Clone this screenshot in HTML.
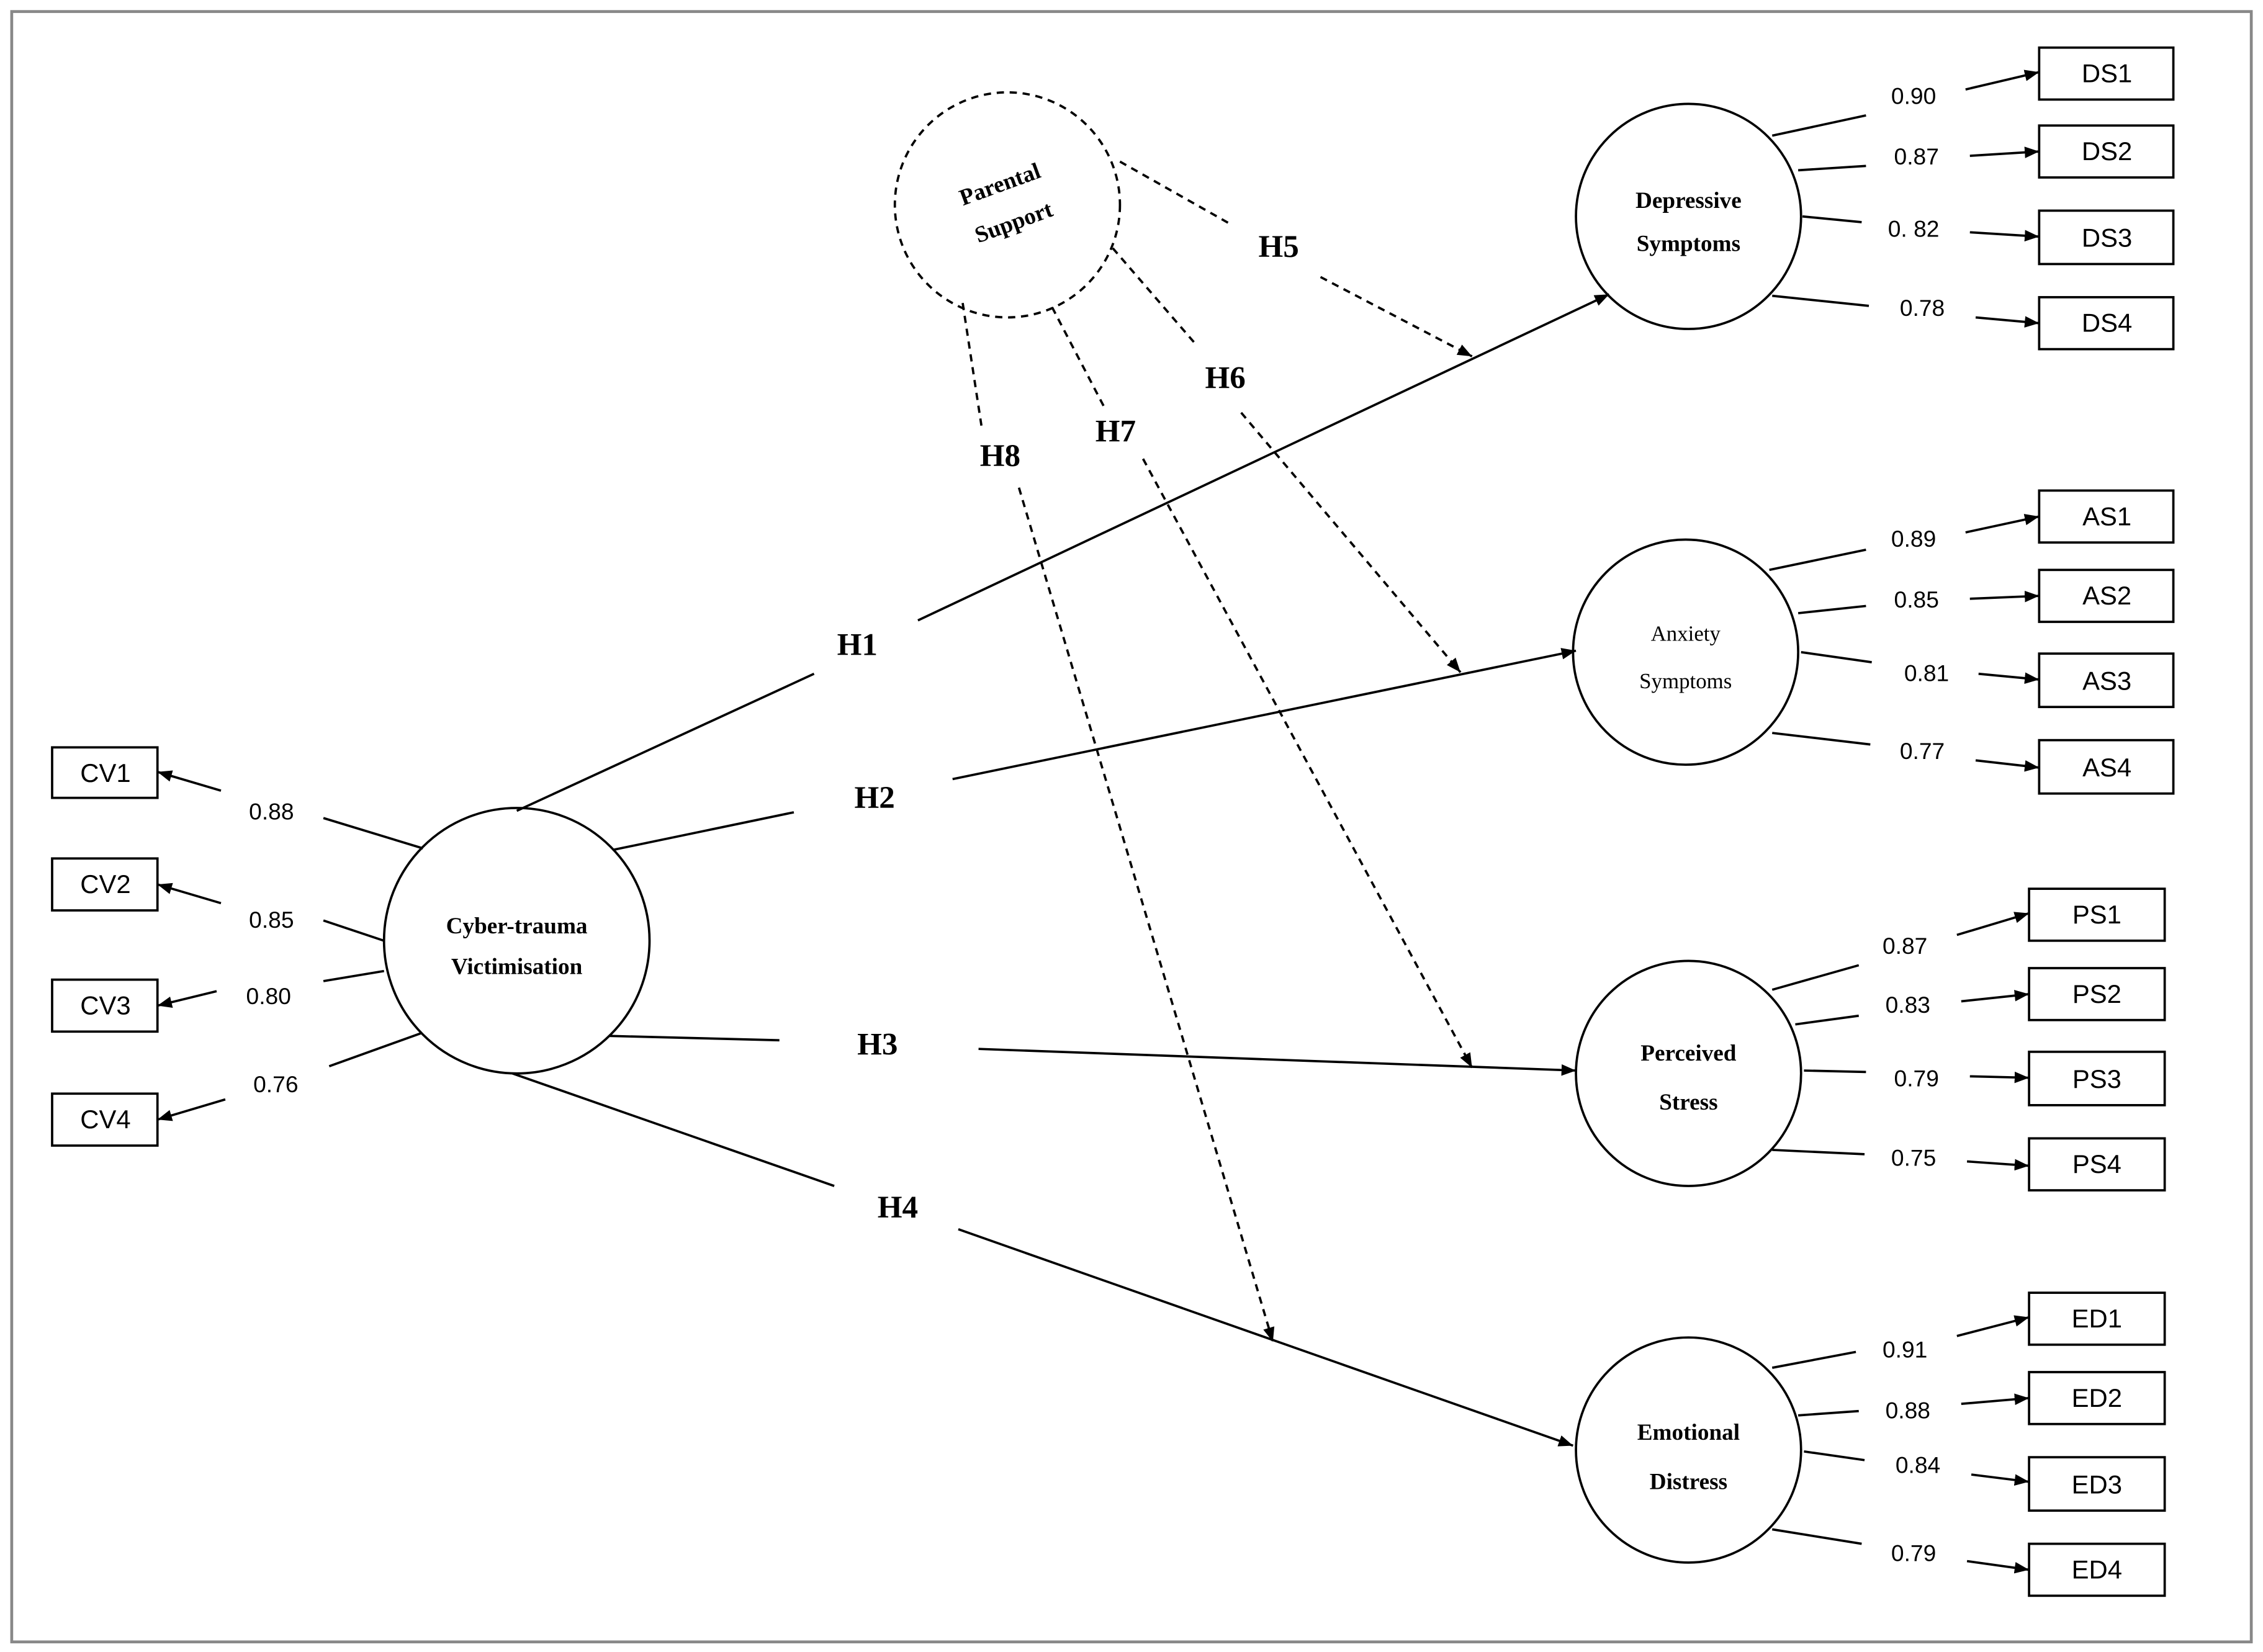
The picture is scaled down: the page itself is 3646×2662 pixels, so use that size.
<!DOCTYPE html>
<html><head><meta charset="utf-8"><style>
html,body{margin:0;padding:0;background:#fff;}
svg{display:block;}
.n{font-family:"Liberation Sans",sans-serif;font-size:16px;}
.b{font-family:"Liberation Sans",sans-serif;font-size:18px;}
.h{font-family:"Liberation Serif",serif;font-size:22px;font-weight:bold;}
.c{font-family:"Liberation Serif",serif;font-size:16px;font-weight:bold;}
</style></head><body>
<svg width="3646" height="2662" viewBox="0 0 1568 1145" xmlns="http://www.w3.org/2000/svg">
<defs><marker id="a" markerWidth="10" markerHeight="8" refX="10" refY="4" orient="auto" markerUnits="userSpaceOnUse"><path d="M0,0 L10,4 L0,8 z" fill="#000"/></marker></defs>
<rect x="0" y="0" width="1568" height="1145" fill="#fff"/>
<rect x="8" y="8" width="1552" height="1130" fill="none" stroke="#888" stroke-width="2"/>
<g fill="none" stroke="#000" stroke-width="1.6">
<circle cx="358" cy="652" r="92"/>
<circle cx="1170" cy="150" r="78"/>
<circle cx="1168" cy="452" r="78"/>
<circle cx="1170" cy="744" r="78"/>
<circle cx="1170" cy="1005" r="78"/>
<circle cx="698" cy="142" r="78" stroke-dasharray="5,4"/>
<rect x="36" y="518" width="73" height="35"/><rect x="36" y="595" width="73" height="36"/><rect x="36" y="679" width="73" height="36"/><rect x="36" y="758" width="73" height="36"/>
<rect x="1413" y="33" width="93" height="36"/><rect x="1413" y="87" width="93" height="36"/><rect x="1413" y="146" width="93" height="37"/><rect x="1413" y="206" width="93" height="36"/>
<rect x="1413" y="340" width="93" height="36"/><rect x="1413" y="395" width="93" height="36"/><rect x="1413" y="453" width="93" height="37"/><rect x="1413" y="513" width="93" height="37"/>
<rect x="1406" y="616" width="94" height="36"/><rect x="1406" y="671" width="94" height="36"/><rect x="1406" y="729" width="94" height="37"/><rect x="1406" y="789" width="94" height="36"/>
<rect x="1406" y="896" width="94" height="36"/><rect x="1406" y="951" width="94" height="36"/><rect x="1406" y="1010" width="94" height="37"/><rect x="1406" y="1070" width="94" height="36"/>
<!-- CV loadings -->
<path d="M293,588 L224,567"/><path d="M153,548 L109,535" marker-end="url(#a)"/>
<path d="M266,652 L224,638"/><path d="M153,626 L109,613" marker-end="url(#a)"/>
<path d="M266,673 L224,680"/><path d="M150,687 L109,697" marker-end="url(#a)"/>
<path d="M292,716 L228,739"/><path d="M156,762 L109,776" marker-end="url(#a)"/>
<!-- DS -->
<path d="M1228,94 L1293,80"/><path d="M1362,62 L1413,50" marker-end="url(#a)"/>
<path d="M1246,118 L1293,115"/><path d="M1365,108 L1413,105" marker-end="url(#a)"/>
<path d="M1249,150 L1290,154"/><path d="M1365,161 L1413,164" marker-end="url(#a)"/>
<path d="M1228,205 L1295,212"/><path d="M1369,220 L1413,224" marker-end="url(#a)"/>
<!-- AS -->
<path d="M1226,395 L1293,381"/><path d="M1362,369 L1413,358" marker-end="url(#a)"/>
<path d="M1246,425 L1293,420"/><path d="M1365,415 L1413,413" marker-end="url(#a)"/>
<path d="M1248,452 L1297,459"/><path d="M1371,467 L1413,471" marker-end="url(#a)"/>
<path d="M1228,508 L1296,516"/><path d="M1369,527 L1413,532" marker-end="url(#a)"/>
<!-- PS -->
<path d="M1228,686 L1288,669"/><path d="M1356,648 L1406,633" marker-end="url(#a)"/>
<path d="M1244,710 L1288,704"/><path d="M1359,694 L1406,689" marker-end="url(#a)"/>
<path d="M1250,742 L1293,743"/><path d="M1365,746 L1406,747" marker-end="url(#a)"/>
<path d="M1228,797 L1292,800"/><path d="M1363,805 L1406,808" marker-end="url(#a)"/>
<!-- ED -->
<path d="M1228,948 L1286,937"/><path d="M1356,926 L1406,913" marker-end="url(#a)"/>
<path d="M1246,981 L1288,978"/><path d="M1359,973 L1406,969" marker-end="url(#a)"/>
<path d="M1250,1006 L1292,1012"/><path d="M1366,1022 L1406,1027" marker-end="url(#a)"/>
<path d="M1228,1060 L1290,1070"/><path d="M1363,1082 L1406,1088" marker-end="url(#a)"/>
<!-- structural paths -->
<path d="M358,562 L564,467"/><path d="M636,430 L1115,204" marker-end="url(#a)"/>
<path d="M425,589 L550,563"/><path d="M660,540 L1092,451" marker-end="url(#a)"/>
<path d="M422,718 L540,721"/><path d="M678,727 L1092,742" marker-end="url(#a)"/>
<path d="M355,744 L578,822"/><path d="M664,852 L1090,1002" marker-end="url(#a)"/>
<g stroke-dasharray="5,4">
<path d="M776,112 L852,155"/><path d="M915,192 L1020,247" marker-end="url(#a)"/>
<path d="M771,172 L828,238"/><path d="M860,286 L1012,466" marker-end="url(#a)"/>
<path d="M729,213 L765,282"/><path d="M792,318 L1020,740" marker-end="url(#a)"/>
<path d="M667,210 L680,295"/><path d="M706,338 L882,930" marker-end="url(#a)"/>
</g>
</g>
<g text-anchor="middle" fill="#000">
<text class="b" x="73" y="542">CV1</text><text class="b" x="73" y="619">CV2</text><text class="b" x="73" y="703">CV3</text><text class="b" x="73" y="782">CV4</text>
<text class="b" x="1460" y="57">DS1</text><text class="b" x="1460" y="111">DS2</text><text class="b" x="1460" y="171">DS3</text><text class="b" x="1460" y="230">DS4</text>
<text class="b" x="1460" y="364">AS1</text><text class="b" x="1460" y="419">AS2</text><text class="b" x="1460" y="478">AS3</text><text class="b" x="1460" y="538">AS4</text>
<text class="b" x="1453" y="640">PS1</text><text class="b" x="1453" y="695">PS2</text><text class="b" x="1453" y="754">PS3</text><text class="b" x="1453" y="813">PS4</text>
<text class="b" x="1453" y="920">ED1</text><text class="b" x="1453" y="975">ED2</text><text class="b" x="1453" y="1035">ED3</text><text class="b" x="1453" y="1094">ED4</text>
<text class="n" x="188" y="568">0.88</text><text class="n" x="188" y="643">0.85</text><text class="n" x="186" y="696">0.80</text><text class="n" x="191" y="757">0.76</text>
<text class="n" x="1326" y="72">0.90</text><text class="n" x="1328" y="114">0.87</text><text class="n" x="1326" y="164">0. 82</text><text class="n" x="1332" y="219">0.78</text>
<text class="n" x="1326" y="379">0.89</text><text class="n" x="1328" y="421">0.85</text><text class="n" x="1335" y="472">0.81</text><text class="n" x="1332" y="526">0.77</text>
<text class="n" x="1320" y="661">0.87</text><text class="n" x="1322" y="702">0.83</text><text class="n" x="1328" y="753">0.79</text><text class="n" x="1326" y="808">0.75</text>
<text class="n" x="1320" y="941">0.91</text><text class="n" x="1322" y="983">0.88</text><text class="n" x="1329" y="1021">0.84</text><text class="n" x="1326" y="1082">0.79</text>
<text class="h" x="594" y="454">H1</text><text class="h" x="606" y="560">H2</text><text class="h" x="608" y="731">H3</text><text class="h" x="622" y="844">H4</text>
<text class="h" x="886" y="178">H5</text><text class="h" x="849" y="269">H6</text><text class="h" x="773" y="306">H7</text><text class="h" x="693" y="323">H8</text>
<text class="c" x="358" y="647" font-size="14">Cyber-trauma</text><text class="c" x="358" y="675" font-size="14">Victimisation</text>
<text class="c" x="1170" y="144" font-size="15">Depressive</text><text class="c" x="1170" y="174" font-size="15">Symptoms</text>
<text x="1168" y="444" style="font-family:'Liberation Serif',serif;font-size:15px">Anxiety</text><text x="1168" y="477" style="font-family:'Liberation Serif',serif;font-size:15px">Symptoms</text>
<text class="c" x="1170" y="735" font-size="18">Perceived</text><text class="c" x="1170" y="769" font-size="18">Stress</text>
<text class="c" x="1170" y="998" font-size="18">Emotional</text><text class="c" x="1170" y="1032" font-size="18">Distress</text>
<g transform="rotate(-20 698 142)"><text class="c" x="698" y="132" font-size="18">Parental</text><text class="c" x="698" y="160" font-size="18">Support</text></g>
</g>
</svg>
</body></html>
